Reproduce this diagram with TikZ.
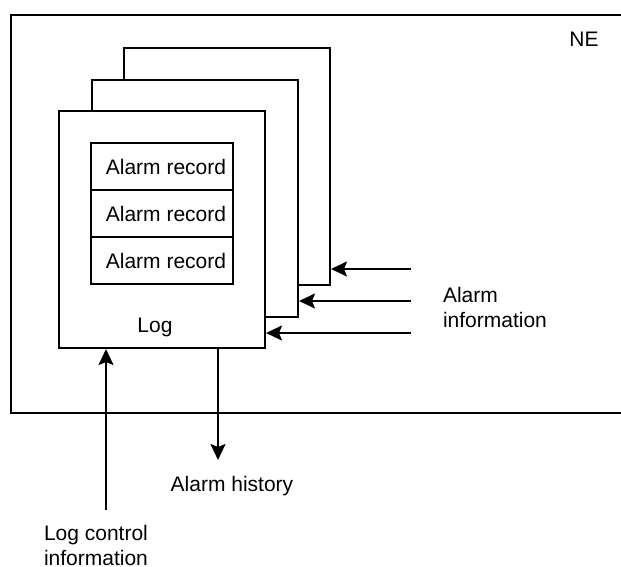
\documentclass[tikz,border=0pt]{standalone}
\usepackage{fontspec}
\setmainfont{Liberation Sans}
\usetikzlibrary{arrows.meta,positioning}

\begin{document}
\begin{tikzpicture}[x=0.5pt, y=-0.5pt,
    >={Stealth[length=8pt,width=7.5pt,inset=1.5pt]},
    line width=1pt,
    every node/.style = {font=\fontsize{10.5}{12.5}\selectfont},
    page/.style = {draw, fill=white, inner sep=0pt, anchor=north west,
                   minimum width=103pt, minimum height=118.5pt},
     rec/.style = {draw, inner sep=0pt, outer sep=0pt,
                   minimum width=71pt, minimum height=23.5pt},
     txt/.style = {align=left, inner sep=0pt}
                    ]
\useasboundingbox (0,0) rectangle (621,567);
% network element
\node (ne) [draw, anchor=north west, inner sep=0pt,
            minimum width=320pt, minimum height=198.5pt] at (10,14.5) {};
\node (nelbl) at (584,39) {NE};
% stacked logs
\node (p3)  [page] at (123,47)  {};
\node (p2)  [page] at (91,79)   {};
\node (log) [page] at (58,110)  {};
\node (r1) [rec, anchor=north west] at (91,143) {\hspace{4pt}Alarm record};
\node (r2) [rec, below=0pt of r1]               {\hspace{4pt}Alarm record};
\node (r3) [rec, below=0pt of r2]               {\hspace{4pt}Alarm record};
\node (loglbl) at (155,327) {Log};
% inputs and outputs
\coordinate (in3) at (411,269);
\coordinate (in2) at (411,301);
\coordinate (in1) at (411,333);
\coordinate (ctl) at (106,510);
\coordinate (his) at (218,460);
\node (ainfo) [txt, anchor=west] at (442,307) {Alarm\\information};
\node (ahist) at (232,486) {Alarm history};
\node (lctl)  [txt, anchor=west] at (43,545) {Log control\\information};
\path[->]
    (in3) edge (in3 -| p3.east)
    (in2) edge (in2 -| p2.east)
    (in1) edge (in1 -| log.east)
    (ctl) edge (ctl |- log.south)
    (his |- log.south) edge (his);
\end{tikzpicture}
\end{document}
